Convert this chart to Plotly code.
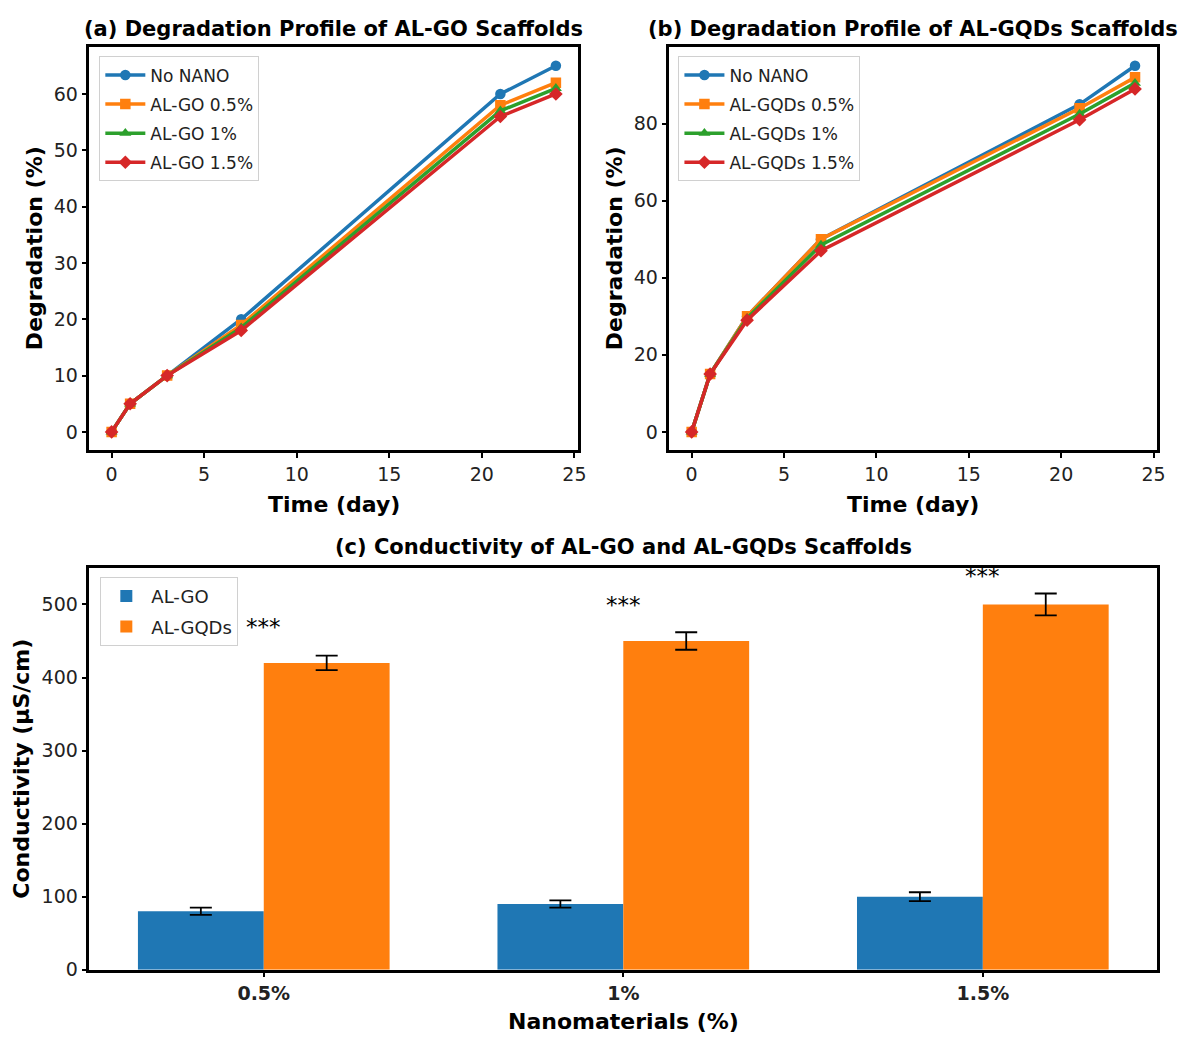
import plotly.graph_objects as go

# ---------------- data ----------------
time_days = [0, 1, 3, 7, 21, 24]

go_names = ["No NANO", "AL-GO 0.5%", "AL-GO 1%", "AL-GO 1.5%"]
go_no_nano = [0, 5, 10, 20, 60, 65]
go_05 = [0, 5, 10, 19, 58, 62]
go_10 = [0, 5, 10, 18.5, 57, 61]
go_15 = [0, 5, 10, 18, 56, 60]

gqd_names = ["No NANO", "AL-GQDs 0.5%", "AL-GQDs 1%", "AL-GQDs 1.5%"]
gqd_no_nano = [0, 15, 30, 50, 85, 95]
gqd_05 = [0, 15, 30, 50, 84, 92]
gqd_10 = [0, 15, 29.5, 48.5, 82.5, 90.5]
gqd_15 = [0, 15, 29, 47, 81, 89]

conc_labels = ["0.5%", "1%", "1.5%"]
cond_go = [80, 90, 100]
cond_go_err = [5, 5, 6]
cond_gqd = [420, 450, 500]
cond_gqd_err = [10, 12, 15]
sig_labels = ["***", "***", "***"]
sig_heights = [469, 499, 539]

# ---------------- style ----------------
colors = ["#1f77b4", "#ff7f0e", "#2ca02c", "#d62728"]
symbols = ["circle", "square", "triangle-up", "diamond"]
FONT = "DejaVu Sans"
W, H = 1195, 1046

def fx(p):
    return p / W

def fy(p):
    return 1 - p / H

def px_x(a, b):
    return [fx(a), fx(b)]

def px_y(top, bottom):
    return [fy(bottom), fy(top)]

fig = go.Figure()

go_series = [go_no_nano, go_05, go_10, go_15]
gqd_series = [gqd_no_nano, gqd_05, gqd_10, gqd_15]

for i, (nm, ys) in enumerate(zip(go_names, go_series)):
    fig.add_trace(go.Scatter(
        x=time_days, y=ys, name=nm, mode="lines+markers", legendgroup="a%d" % i,
        line=dict(color=colors[i], width=3.5),
        marker=dict(symbol=symbols[i], size=10.5, color=colors[i]),
        xaxis="x", yaxis="y", legend="legend"))

for i, (nm, ys) in enumerate(zip(gqd_names, gqd_series)):
    fig.add_trace(go.Scatter(
        x=time_days, y=ys, name=nm, mode="lines+markers", legendgroup="b%d" % i,
        line=dict(color=colors[i], width=3.5),
        marker=dict(symbol=symbols[i], size=10.5, color=colors[i]),
        xaxis="x2", yaxis="y2", legend="legend2"))

xi = list(range(len(conc_labels)))
bw = 0.35
fig.add_trace(go.Bar(
    x=[v - bw / 2 for v in xi], y=cond_go, width=bw, name="AL-GO", legendgroup="c0",
    marker=dict(color=colors[0], line=dict(width=0)),
    error_y=dict(type="data", array=cond_go_err, color="black", thickness=1.8, width=11),
    xaxis="x3", yaxis="y3", legend="legend3"))
fig.add_trace(go.Bar(
    x=[v + bw / 2 for v in xi], y=cond_gqd, width=bw, name="AL-GQDs", legendgroup="c1",
    marker=dict(color=colors[1], line=dict(width=0)),
    error_y=dict(type="data", array=cond_gqd_err, color="black", thickness=1.8, width=11),
    xaxis="x3", yaxis="y3", legend="legend3"))

annotations = []
for v, lab, hy in zip(xi, sig_labels, sig_heights):
    annotations.append(dict(x=v, y=hy, xref="x3", yref="y3", text=lab, showarrow=False,
                            font=dict(family=FONT, size=23, color="black"),
                            xanchor="center", yanchor="middle"))

def label(text, x, y, size, angle=0):
    annotations.append(dict(x=x, y=y, xref="paper", yref="paper", text=text, showarrow=False,
                            textangle=angle, font=dict(family=FONT, size=size, color="black"),
                            xanchor="center", yanchor="middle"))

label("<b>(a) Degradation Profile of AL-GO Scaffolds</b>", fx((90 + 582) / 2), fy(29), 21)
label("<b>(b) Degradation Profile of AL-GQDs Scaffolds</b>", fx((674 + 1165) / 2), fy(29), 21)
label("<b>(c) Conductivity of AL-GO and AL-GQDs Scaffolds</b>", fx((90 + 1165) / 2), fy(553), 21)
label("<b>Time (day)</b>", fx((90 + 582) / 2), fy(510), 22)
label("<b>Time (day)</b>", fx((674 + 1165) / 2), fy(510), 22)
label("<b>Degradation (%)</b>", fx(35), fy(251), 22, -90)
label("<b>Degradation (%)</b>", fx(618), fy(251), 22, -90)
label("<b>Conductivity (µS/cm)</b>", fx(22), fy(777), 22, -90)
label("<b>Nanomaterials (%)</b>", fx((90 + 1165) / 2), fy(1032), 22)

axis_common = dict(showline=True, linecolor="black", linewidth=2.5, mirror=True,
                   ticks="outside", ticklen=5, tickwidth=2, tickcolor="black",
                   showgrid=False, zeroline=False,
                   tickfont=dict(family=FONT, size=19, color="#222"))

legend_common = dict(bgcolor="rgba(255,255,255,0.9)", bordercolor="#d0d0d0", borderwidth=1,
                     font=dict(family=FONT, size=17, color="#222"),
                     xanchor="left", yanchor="top", tracegroupgap=4, itemwidth=40)

fig.update_layout(
    width=W, height=H, margin=dict(l=0, r=0, t=0, b=0),
    plot_bgcolor="white", paper_bgcolor="white",
    font=dict(family=FONT),
    xaxis=dict(domain=px_x(90, 582), range=[-1.2, 25.2], tickvals=[0, 5, 10, 15, 20, 25],
               anchor="y", **axis_common),
    yaxis=dict(domain=px_y(48, 455), range=[-3.25, 68.25], tickvals=[0, 10, 20, 30, 40, 50, 60],
               anchor="x", **axis_common),
    xaxis2=dict(domain=px_x(674, 1165), range=[-1.2, 25.2], tickvals=[0, 5, 10, 15, 20, 25],
                anchor="y2", **axis_common),
    yaxis2=dict(domain=px_y(48, 455), range=[-4.75, 99.75], tickvals=[0, 20, 40, 60, 80],
                anchor="x2", **axis_common),
    xaxis3=dict(domain=px_x(90, 1165), range=[-0.485, 2.485], tickvals=xi,
                ticktext=["<b>%s</b>" % c for c in conc_labels], anchor="y3", **axis_common),
    yaxis3=dict(domain=px_y(574, 980), range=[0, 550], tickvals=[0, 100, 200, 300, 400, 500],
                anchor="x3", **axis_common),
    legend=dict(x=fx(100), y=fy(57), **legend_common),
    legend2=dict(x=fx(683), y=fy(57), **legend_common),
    legend3=dict(x=fx(101), y=fy(583), **{**legend_common, "font": dict(family=FONT, size=18, color="#222")}),
    annotations=annotations,
    barmode="overlay",
    showlegend=True,
)

fix = ("document.documentElement.style.margin='0';document.documentElement.style.padding='0';"
       "document.body.style.margin='0';document.body.style.padding='0';"
       "document.body.style.overflow='hidden';document.documentElement.style.overflow='hidden';")
fig.write_html("out.html", post_script=fix)
